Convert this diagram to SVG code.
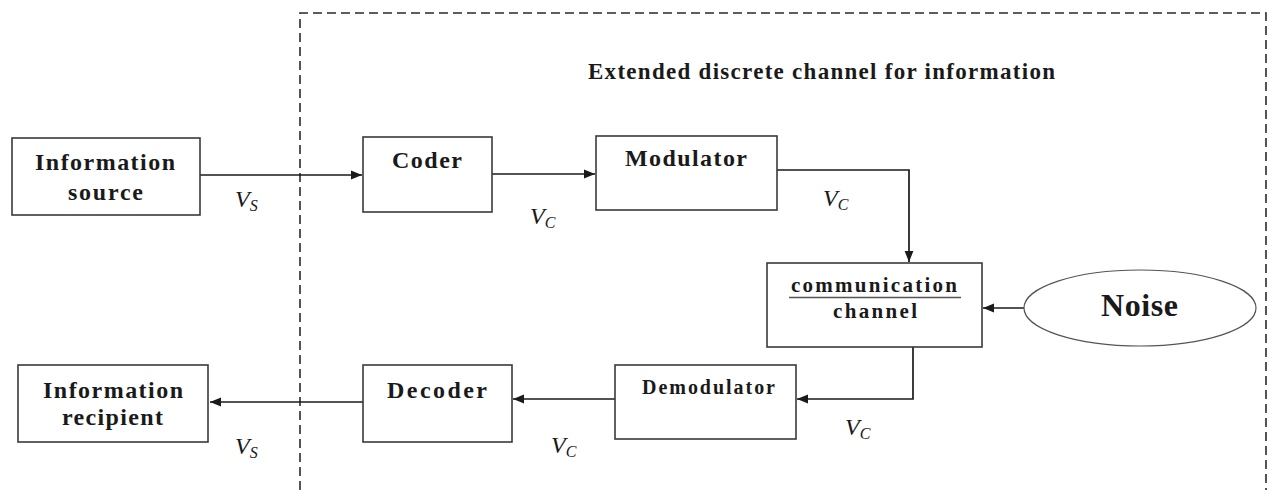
<svg xmlns="http://www.w3.org/2000/svg" width="1269" height="490" viewBox="0 0 1269 490">
<style>
.box{fill:#fff;stroke:#3a3a3a;stroke-width:1.6}
.lbl{font-family:"Liberation Serif","DejaVu Serif",serif;font-weight:bold;fill:#1a1a1a}
.s24{font-size:24px}
.s23{font-size:23px}
.s21{font-size:21px}
.s20{font-size:20px}
.s32{font-size:32px}
.v{font-family:"Liberation Serif","DejaVu Serif",serif;font-style:italic;font-size:24px;fill:#1a1a1a}
.sub{font-size:16px}
.ln{fill:none;stroke:#1a1a1a;stroke-width:1.7}
.dash{fill:none;stroke:#2a2a2a;stroke-width:1.6;stroke-dasharray:9 5}
</style>
<defs>
<marker id="ah" viewBox="0 0 10 10" refX="10" refY="5" markerWidth="11" markerHeight="11" markerUnits="userSpaceOnUse" orient="auto">
<path d="M0,1 L10,5 L0,9 Z" fill="#1a1a1a"/>
</marker>
</defs>
<rect width="1269" height="490" fill="#fff"/>
<g id="extended-channel">
<path class="dash" d="M300,490 L300,13 L1266,13 L1266,490"/>
<text class="lbl s23" x="588" y="79" textLength="467">Extended discrete channel for information</text>
</g>
<g id="connectors">
<path class="ln" d="M200,175 L362,175" marker-end="url(#ah)"/>
<path class="ln" d="M487,174 L595,174" marker-end="url(#ah)"/>
<path class="ln" d="M777,170 L909,170 L909,262" marker-end="url(#ah)"/>
<path class="ln" d="M1024,308 L983,308" marker-end="url(#ah)"/>
<path class="ln" d="M913,347 L913,399 L797,399" marker-end="url(#ah)"/>
<path class="ln" d="M615,399 L513,399" marker-end="url(#ah)"/>
<path class="ln" d="M363,402 L210,402" marker-end="url(#ah)"/>
<text class="v" x="235" y="207">V<tspan class="sub" dy="4">S</tspan></text>
<text class="v" x="530" y="224">V<tspan class="sub" dy="4">C</tspan></text>
<text class="v" x="823" y="206">V<tspan class="sub" dy="4">C</tspan></text>
<text class="v" x="845" y="435">V<tspan class="sub" dy="4">C</tspan></text>
<text class="v" x="551" y="453">V<tspan class="sub" dy="4">C</tspan></text>
<text class="v" x="235" y="454">V<tspan class="sub" dy="4">S</tspan></text>
</g>
<g id="information-source">
<rect class="box" x="12" y="138" width="188" height="77"/>
<text class="lbl s24" x="35" y="170" textLength="140">Information</text>
<text class="lbl s24" x="68" y="200" textLength="75">source</text>
</g>
<g id="coder">
<rect class="box" x="363" y="137" width="129" height="75"/>
<text class="lbl s24" x="392" y="168" textLength="70">Coder</text>
</g>
<g id="modulator">
<rect class="box" x="596" y="136" width="181" height="74"/>
<text class="lbl s24" x="625" y="166" textLength="122">Modulator</text>
</g>
<g id="communication-channel">
<rect class="box" x="767" y="263" width="215" height="84"/>
<text class="lbl s21" x="791" y="292" textLength="166">communication</text>
<line x1="789" y1="297.5" x2="961" y2="297.5" stroke="#555" stroke-width="1.3"/>
<text class="lbl s21" x="833" y="318" textLength="84">channel</text>
</g>
<g id="noise">
<ellipse cx="1140" cy="308" rx="116" ry="38" fill="#fff" stroke="#555" stroke-width="1.2"/>
<text class="lbl s32" x="1101" y="316" textLength="77">Noise</text>
</g>
<g id="demodulator">
<rect class="box" x="615" y="365" width="181" height="74"/>
<text class="lbl s20" x="642" y="394" textLength="133">Demodulator</text>
</g>
<g id="decoder">
<rect class="box" x="363" y="365" width="149" height="77"/>
<text class="lbl s24" x="387" y="398" textLength="100">Decoder</text>
</g>
<g id="information-recipient">
<rect class="box" x="18" y="365" width="190" height="77"/>
<text class="lbl s24" x="43" y="398" textLength="140">Information</text>
<text class="lbl s24" x="62" y="425" textLength="101">recipient</text>
</g>
</svg>
